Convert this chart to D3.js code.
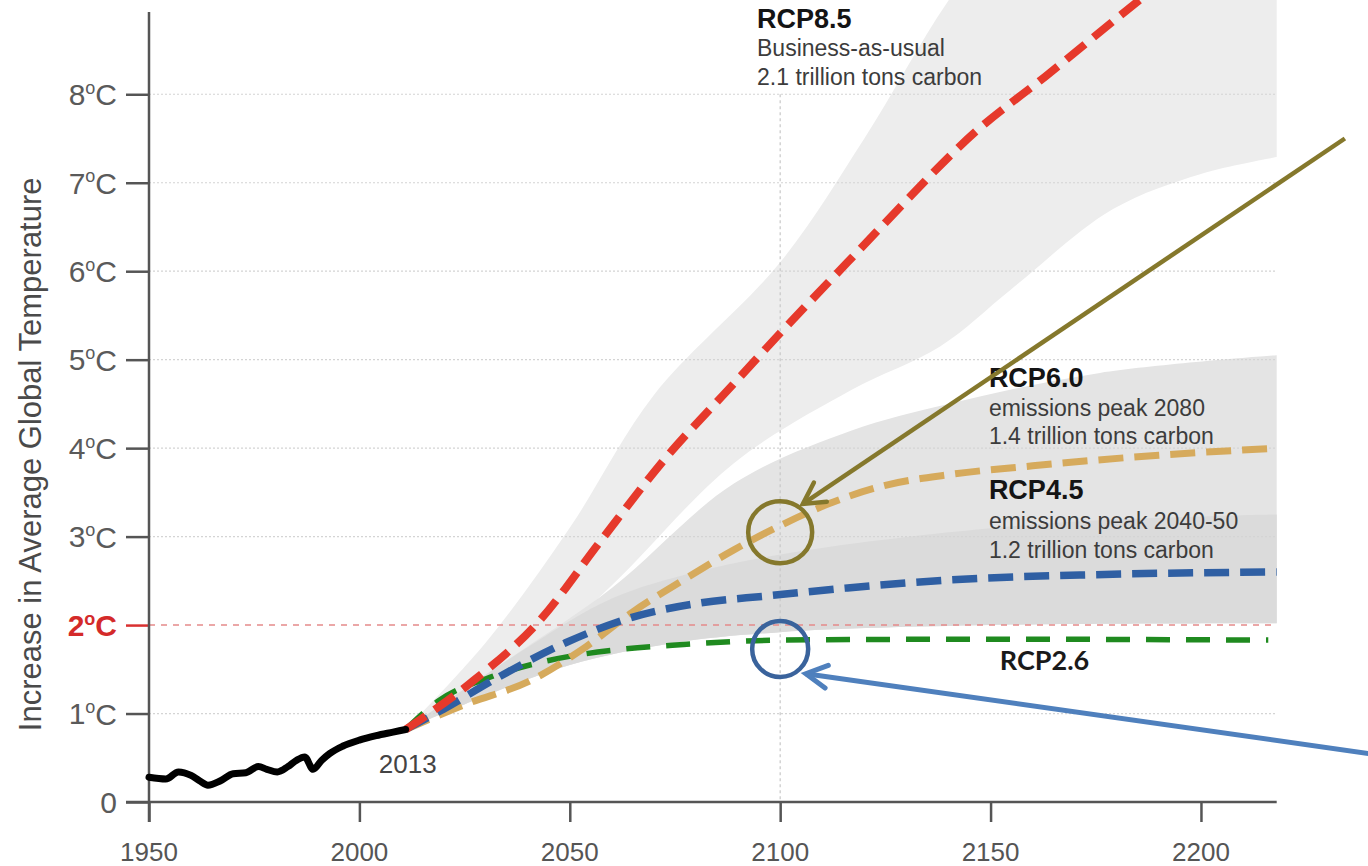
<!DOCTYPE html>
<html>
<head>
<meta charset="utf-8">
<script src="https://cdn.jsdelivr.net/npm/d3@7"></script>
<style>
  html, body { margin: 0; padding: 0; background: #fff; }
  svg { display: block; font-family: "Liberation Sans", Arial, sans-serif; }
</style>
</head>
<body>
<svg id="chart" width="1368" height="866"></svg>
<script>
// Observed global temperature anomaly, 1950 to present
const histYears = [1950, 1954, 1957, 1960, 1962, 1964, 1967, 1970, 1973, 1976, 1978, 1980.5, 1983, 1985, 1987, 1989, 1991, 1993, 1996, 2000, 2004, 2008, 2011];
const histTemp  = [0.28, 0.26, 0.34, 0.30, 0.24, 0.19, 0.24, 0.32, 0.33, 0.40, 0.37, 0.34, 0.40, 0.47, 0.51, 0.37, 0.47, 0.55, 0.63, 0.70, 0.75, 0.79, 0.82];

// Scenario means
const rcp85Years = [2011, 2026, 2043, 2057, 2073, 2089, 2100, 2116, 2124, 2147, 2163, 2185, 2200];
const rcp85Temp  = [0.82, 1.33, 2.06, 2.93, 3.90, 4.73, 5.30, 6.10, 6.50, 7.60, 8.20, 9.05, 9.60];
const rcp60Years = [2011, 2025, 2041, 2054, 2065, 2077, 2089, 2099, 2112, 2125, 2140, 2160, 2190, 2218];
const rcp60Temp  = [0.82, 1.10, 1.38, 1.76, 2.15, 2.51, 2.85, 3.10, 3.38, 3.58, 3.70, 3.80, 3.92, 4.00];
const rcp45Years = [2011, 2020, 2033, 2049, 2065, 2081, 2097, 2116, 2140, 2175, 2218];
const rcp45Temp  = [0.82, 1.05, 1.41, 1.80, 2.09, 2.25, 2.33, 2.42, 2.51, 2.57, 2.60];
const rcp26Years = [2011, 2019, 2031, 2045, 2061, 2077, 2100, 2150, 2216];
const rcp26Temp  = [0.82, 1.15, 1.41, 1.60, 1.72, 1.78, 1.83, 1.84, 1.83];

// Uncertainty ranges (upper and lower bounds)
const band85HiYears = [2011, 2030, 2050, 2070, 2100, 2120, 2140, 2160, 2218];
const band85Hi      = [0.82, 1.80, 3.10, 4.60, 6.10, 7.50, 9.06, 10.3, 13.0];
const band85LoYears = [2011, 2040, 2060, 2089, 2117, 2138, 2155, 2179, 2200, 2218];
const band85Lo      = [0.82, 1.60, 2.45, 3.83, 4.66, 5.15, 5.80, 6.70, 7.10, 7.29];
const band60HiYears = [2011, 2035, 2060, 2089, 2117, 2140, 2176, 2218];
const band60Hi      = [0.82, 1.60, 2.42, 3.60, 4.20, 4.50, 4.85, 5.05];
const band45HiYears = [2011, 2040, 2060, 2080, 2107, 2164, 2218];
const band45Hi      = [0.82, 1.75, 2.30, 2.60, 2.85, 3.15, 3.25];
const bandLoYears   = [2011, 2030, 2050, 2075, 2100, 2150, 2218];
const bandLo        = [0.82, 1.20, 1.55, 1.80, 1.92, 2.00, 2.02];

// Axis ticks
const xTicks = [1950, 2000, 2050, 2100, 2150, 2200];
const yTicks = [0, 1, 2, 3, 4, 5, 6, 7, 8];
const targetTemp = 2;

// Annotation text
const labels85 = ["RCP8.5", "Business-as-usual", "2.1 trillion tons carbon"];
const labels60 = ["RCP6.0", "emissions peak 2080", "1.4 trillion tons carbon"];
const labels45 = ["RCP4.5", "emissions peak 2040-50", "1.2 trillion tons carbon"];
const label26 = "RCP2.6";
const yTitle = "Increase in Average Global Temperature";

const svg = d3.select("#chart");
const x = d3.scaleLinear().domain([1950, 2218]).range([149, 1276.7]);
const y = d3.scaleLinear().domain([0, 8.93]).range([802, 12]);

const zip = (xs, ys) => xs.map((v, i) => [v, ys[i]]);
const line = d3.line().x(d => x(d[0])).y(d => y(d[1])).curve(d3.curveMonotoneX);
const edge = d3.line().x(d => x(d[0])).y(d => y(d[1])).curve(d3.curveCatmullRom.alpha(0.5));

function bandPath(hiPts, loPts) {
  const top = edge(hiPts);
  const bottom = edge(loPts.slice().reverse()).replace(/^M/, "L");
  return top + bottom + "Z";
}

// ---- uncertainty bands ----
const bands = svg.append("g");
bands.append("path")
  .attr("d", bandPath(zip(band85HiYears, band85Hi), zip(band85LoYears, band85Lo)))
  .attr("fill", "#ededed");
bands.append("path")
  .attr("d", bandPath(zip(band60HiYears, band60Hi), zip(bandLoYears, bandLo)))
  .attr("fill", "#e4e4e4");
bands.append("path")
  .attr("d", bandPath(zip(band45HiYears, band45Hi), zip(bandLoYears, bandLo)))
  .attr("fill", "#dbdbdb");

// ---- grid ----
const grid = svg.append("g");
grid.selectAll("line.h").data(yTicks.filter(t => t > 0 && t !== targetTemp)).join("line")
  .attr("x1", x(1950)).attr("x2", x(2218))
  .attr("y1", d => y(d)).attr("y2", d => y(d))
  .attr("stroke", "#d4d4d4").attr("stroke-width", 1.2).attr("stroke-dasharray", "2,2");
grid.append("line")
  .attr("x1", x(2100)).attr("x2", x(2100))
  .attr("y1", y(8)).attr("y2", y(0))
  .attr("stroke", "#c8c8c8").attr("stroke-width", 1.2).attr("stroke-dasharray", "3,3");
grid.append("line")
  .attr("x1", x(1950)).attr("x2", x(2218))
  .attr("y1", y(targetTemp)).attr("y2", y(targetTemp))
  .attr("stroke", "#e58a8a").attr("stroke-width", 1.6).attr("stroke-dasharray", "6,6");

// ---- axes ----
const axisColor = "#555";
const yAxis = svg.append("g").attr("transform", `translate(${x(1950)},0)`)
  .call(d3.axisLeft(y).tickValues(yTicks).tickSize(23).tickSizeOuter(0).tickFormat(""));
yAxis.select(".domain").remove();
yAxis.selectAll(".tick line").attr("stroke", d => d === targetTemp ? "#d93030" : axisColor).attr("stroke-width", 2.5);

const xAxis = svg.append("g").attr("transform", `translate(0,${y(0)})`)
  .call(d3.axisBottom(x).tickValues(xTicks).tickSize(20).tickSizeOuter(0).tickFormat(""));
xAxis.select(".domain").remove();
xAxis.selectAll(".tick line").attr("stroke", axisColor).attr("stroke-width", 2.5);

// axis lines (crossing at the origin)
svg.append("line").attr("x1", x(1950)).attr("x2", x(1950))
  .attr("y1", y(8.93)).attr("y2", y(0) + 20)
  .attr("stroke", axisColor).attr("stroke-width", 2.5);
svg.append("line").attr("x1", x(1950) - 23).attr("x2", x(2218))
  .attr("y1", y(0)).attr("y2", y(0))
  .attr("stroke", axisColor).attr("stroke-width", 2.5);

// y tick labels with superscript degree sign
const yLab = svg.append("g");
yTicks.forEach(t => {
  const isTarget = t === targetTemp;
  const txt = yLab.append("text")
    .attr("x", x(1950) - 32).attr("y", y(t)).attr("dy", "0.36em")
    .attr("text-anchor", "end")
    .attr("font-size", 30)
    .attr("font-weight", isTarget ? "bold" : "normal")
    .attr("fill", isTarget ? "#d42a2a" : "#5a5a5a");
  if (t === 0) { txt.text("0"); return; }
  txt.append("tspan").text(t);
  txt.append("tspan").text("o").attr("font-size", 18).attr("dy", "-0.62em");
  txt.append("tspan").text("C").attr("dy", "0.38em");
});

// x tick labels
svg.append("g").selectAll("text").data(xTicks).join("text")
  .attr("x", d => x(d)).attr("y", 861)
  .attr("text-anchor", "middle").attr("font-size", 26).attr("fill", "#555")
  .text(d => d);

// y title
svg.append("text")
  .attr("transform", `translate(41,${y(3.93)}) rotate(-90)`)
  .attr("text-anchor", "middle").attr("font-size", 31).attr("fill", "#4a4a4a")
  .text(yTitle);

// ---- series lines ----
const lines = svg.append("g").attr("fill", "none").attr("stroke-linecap", "butt");
lines.append("path").attr("d", line(zip(rcp26Years, rcp26Temp)))
  .attr("stroke", "#1f8a1f").attr("stroke-width", 5.5).attr("stroke-dasharray", "24,16");
lines.append("path").attr("d", line(zip(rcp60Years, rcp60Temp)))
  .attr("stroke", "#d6aa5c").attr("stroke-width", 7).attr("stroke-dasharray", "25,11");
lines.append("path").attr("d", line(zip(rcp45Years, rcp45Temp)))
  .attr("stroke", "#2f5fa3").attr("stroke-width", 7.5).attr("stroke-dasharray", "25,11");
lines.append("path").attr("d", line(zip(rcp85Years, rcp85Temp)))
  .attr("stroke", "#e6392b").attr("stroke-width", 8).attr("stroke-dasharray", "24,11");
lines.append("path").attr("d", line(zip(histYears, histTemp)))
  .attr("stroke", "#000").attr("stroke-width", 7).attr("stroke-linejoin", "round")
  .attr("stroke-linecap", "round");

svg.append("text").attr("x", x(2011.5)).attr("y", y(0.33))
  .attr("text-anchor", "middle").attr("font-size", 26).attr("fill", "#444").text("2013");

// ---- scenario labels ----
function block(textLines, year, temp, gap) {
  const g = svg.append("g");
  textLines.forEach((s, i) => {
    g.append("text").attr("x", x(year)).attr("y", y(temp) + i * gap)
      .attr("font-size", i === 0 ? 27 : 23)
      .attr("font-weight", i === 0 ? "bold" : "normal")
      .attr("fill", i === 0 ? "#141414" : "#3c3c3c")
      .text(s);
  });
}
block(labels85, 2094.5, 8.75, 28.5);
block(labels60, 2149.6, 4.69, 28.5);
block(labels45, 2149.6, 3.42, 29.5);
svg.append("text").attr("x", x(2152.2)).attr("y", y(1.49))
  .attr("font-family", "Lato, 'Open Sans', sans-serif").attr("font-weight", "bold")
  .attr("font-size", 27).attr("fill", "#1a1a1a").text(label26);

// ---- highlight circles and arrows ----
const olive = "#85782c", arrowBlue = "#4f80bd", ringBlue = "#3a639c";
svg.append("ellipse").attr("cx", x(2100)).attr("cy", y(3.05)).attr("rx", 32).attr("ry", 31)
  .attr("fill", "none").attr("stroke", olive).attr("stroke-width", 4.5);
svg.append("circle").attr("cx", x(2100)).attr("cy", y(1.73)).attr("r", 28)
  .attr("fill", "none").attr("stroke", ringBlue).attr("stroke-width", 4.5);

function arrow(from, to, color, width) {
  const x0 = x(from[0]), y0 = y(from[1]), x1 = x(to[0]), y1 = y(to[1]);
  const a = Math.atan2(y0 - y1, x0 - x1);
  const len = 24, spread = 0.5;
  svg.append("line").attr("x1", x0).attr("y1", y0).attr("x2", x1).attr("y2", y1)
    .attr("stroke", color).attr("stroke-width", width);
  svg.append("path")
    .attr("d", `M${x1 + len * Math.cos(a + spread)},${y1 + len * Math.sin(a + spread)}L${x1},${y1}L${x1 + len * Math.cos(a - spread)},${y1 + len * Math.sin(a - spread)}`)
    .attr("fill", "none").attr("stroke", color).attr("stroke-width", width)
    .attr("stroke-linejoin", "miter").attr("stroke-linecap", "round");
}
arrow([2234.2, 7.5], [2105.4, 3.37], olive, 4.5);
arrow([2242.5, 0.53], [2106.1, 1.45], arrowBlue, 5);
</script>
</body>
</html>
